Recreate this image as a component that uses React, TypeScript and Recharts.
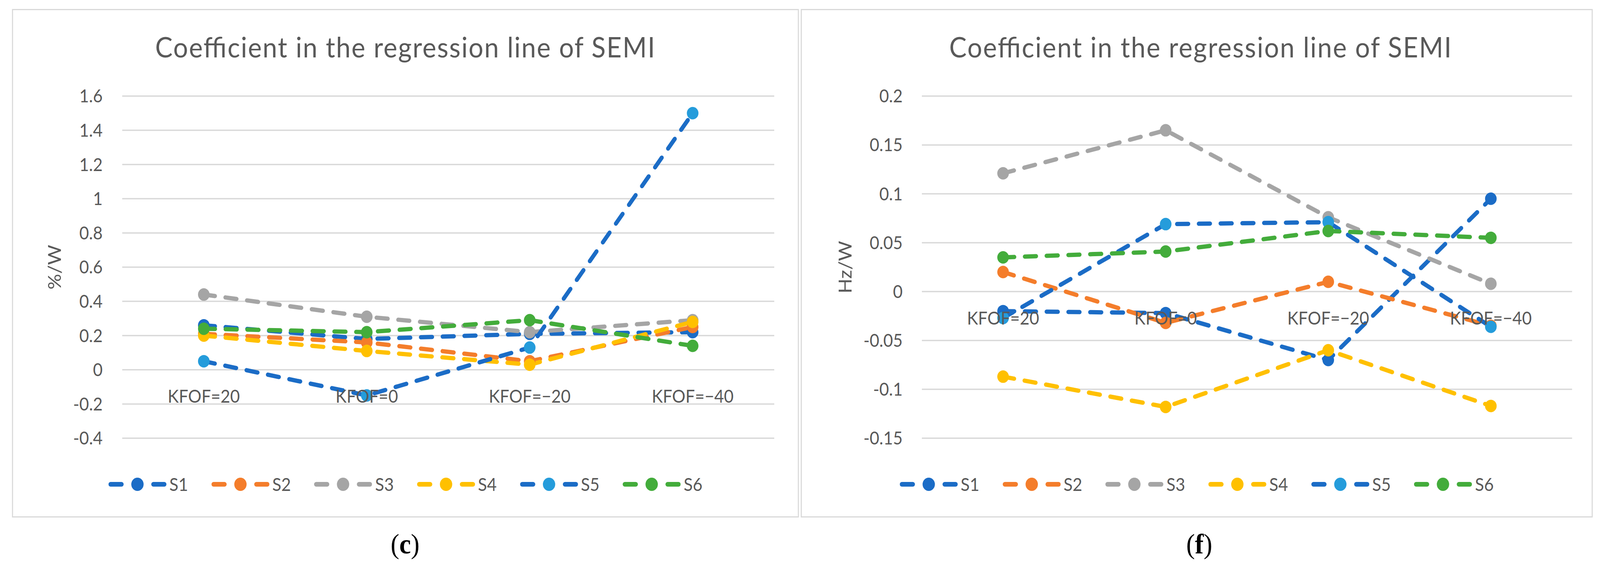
import React from 'react';
import { LineChart, Line, XAxis, YAxis, CartesianGrid, ReferenceDot, Legend } from 'recharts';

// ---------- data ----------
const categories = ['KFOF=20', 'KFOF=0', 'KFOF=\u221220', 'KFOF=\u221240'];
const seriesNames = ['S1', 'S2', 'S3', 'S4', 'S5', 'S6'];

// panel (c) values, %/W
const cS1 = [0.26, 0.18, 0.21, 0.22];
const cS2 = [0.21, 0.16, 0.05, 0.25];
const cS3 = [0.44, 0.31, 0.22, 0.29];
const cS4 = [0.2, 0.11, 0.03, 0.28];
const cS5 = [0.05, -0.15, 0.13, 1.5];
const cS6 = [0.24, 0.22, 0.29, 0.14];
const cTicks = [-0.4, -0.2, 0, 0.2, 0.4, 0.6, 0.8, 1, 1.2, 1.4, 1.6];

// panel (f) values, Hz/W
const fS1 = [-0.02, -0.022, -0.07, 0.095];
const fS2 = [0.02, -0.032, 0.01, -0.035];
const fS3 = [0.121, 0.165, 0.076, 0.008];
const fS4 = [-0.087, -0.118, -0.06, -0.117];
const fS5 = [-0.027, 0.069, 0.071, -0.036];
const fS6 = [0.035, 0.041, 0.062, 0.055];
const fTicks = [-0.15, -0.1, -0.05, 0, 0.05, 0.1, 0.15, 0.2];

const chartTitle = 'Coefficient in the regression line of SEMI';

// ---------- styles ----------
const lineColors = ['#1B6CC6', '#F47D2B', '#A5A5A5', '#FFC000', '#1B6CC6', '#43AC3B'];
const markerColors = ['#1B6CC6', '#F47D2B', '#A5A5A5', '#FFC000', '#259CDB', '#43AC3B'];
const FONT = "Lato, 'Open Sans', sans-serif";
const TXT = '#595959';
const GRID = '#D9D9D9';
const PAGE_W = 4412;
const PAGE_H = 1462;

function buildRows(vals: number[][]) {
  return categories.map((cat, i) => {
    const row: Record<string, any> = { cat };
    seriesNames.forEach((n, k) => {
      row[n] = vals[k][i];
    });
    return row;
  });
}

const cRows = buildRows([cS1, cS2, cS3, cS4, cS5, cS6]);
const fRows = buildRows([fS1, fS2, fS3, fS4, fS5, fS6]);

const fmt = (v: number) => String(Math.round(v * 1000) / 1000);

function LegendRow() {
  return (
    <div style={{ display: 'flex', justifyContent: 'center', alignItems: 'center', width: '100%', height: 40 }}>
      {seriesNames.map((n, i) => (
        <div key={n} style={{ display: 'flex', alignItems: 'center', marginLeft: i ? 64 : 0 }}>
          <svg width={160} height={40}>
            <line x1={6} y1={20} x2={36} y2={20} stroke={lineColors[i]} strokeWidth={12} strokeLinecap="round" />
            <line x1={124} y1={20} x2={154} y2={20} stroke={lineColors[i]} strokeWidth={12} strokeLinecap="round" />
            <circle cx={80} cy={20} r={17} fill={markerColors[i]} />
          </svg>
          <span style={{ marginLeft: 8, fontFamily: FONT, fontSize: 46, color: TXT, lineHeight: '40px' }}>{n}</span>
        </div>
      ))}
    </div>
  );
}

type PanelProps = {
  rows: Record<string, any>[];
  ticks: number[];
  width: number;
  height: number;
  yWidth: number;
  tickGap: number;
  rightMargin: number;
  pad: number;
  unit: string;
  unitX: number;
};

function Panel(p: PanelProps) {
  const domain: [number, number] = [p.ticks[0], p.ticks[p.ticks.length - 1]];
  return (
    <LineChart width={p.width} height={p.height} data={p.rows} margin={{ top: 223, right: p.rightMargin, bottom: 203, left: 0 }}>
      <CartesianGrid vertical={false} stroke={GRID} strokeWidth={3.5} />
      <XAxis dataKey="cat" type="category" tick={false} axisLine={false} tickLine={false} height={0} padding={{ left: p.pad, right: p.pad }} />
      <YAxis
        type="number"
        domain={domain}
        ticks={p.ticks}
        interval={0}
        width={p.yWidth}
        axisLine={false}
        tickLine={false}
        tickSize={0}
        tickMargin={p.tickGap}
        tickFormatter={fmt}
        tick={{ fill: TXT, fontSize: 46, fontFamily: FONT }}
        label={(lp: any) => {
          const vb = lp.viewBox || {};
          const cx = (vb.x || 0) + p.unitX;
          const cy = (vb.y || 0) + (vb.height || 0) / 2;
          return (
            <text x={cx} y={cy} transform={`rotate(-90 ${cx} ${cy})`} textAnchor="middle" dominantBaseline="central" fill={TXT} fontSize={50} fontFamily={FONT}>
              {p.unit}
            </text>
          );
        }}
      />
      {categories.map((c) => (
        <ReferenceDot
          key={c}
          x={c}
          y={0}
          r={0}
          fill="none"
          stroke="none"
          label={{ value: c, position: 'bottom', offset: 52, fill: TXT, fontSize: 46, fontFamily: FONT }}
        />
      ))}
      {seriesNames.map((n, i) => (
        <Line
          key={n}
          type="linear"
          dataKey={n}
          stroke={lineColors[i]}
          strokeWidth={11}
          strokeDasharray="31 29"
          strokeLinecap="round"
          dot={{ r: 16, fill: markerColors[i], stroke: 'none', strokeWidth: 0 }}
          activeDot={false}
          isAnimationActive={false}
        />
      ))}
      <Legend verticalAlign="middle" content={() => <LegendRow />} wrapperStyle={{ top: 1197, left: 0, width: '100%', height: 40 }} />
    </LineChart>
  );
}

export default function App() {
  const vw = typeof window !== 'undefined' ? window.innerWidth : PAGE_W;
  const vh = typeof window !== 'undefined' ? window.innerHeight : PAGE_H;
  const sx = vw > 0 ? Math.min(1, vw / PAGE_W) : 1;
  const sy = vh > 0 ? Math.min(1, vh / PAGE_H) : 1;
  return (
    <div style={{ position: 'fixed', left: 0, top: 0, width: '100vw', height: '100vh', overflow: 'hidden', background: '#fff' }}>
      <div
        style={{
          position: 'absolute',
          left: 0,
          top: 0,
          width: PAGE_W,
          height: PAGE_H,
          background: '#fff',
          transform: `scale(${sx}, ${sy})`,
          transformOrigin: '0 0',
        }}
      >
        <div style={{ position: 'absolute', left: 33, top: 23 }}>
          <Panel rows={cRows} ticks={cTicks} width={2170} height={1302} yWidth={304} tickGap={54} rightMargin={68} pad={225} unit="%/W" unitX={115} />
        </div>
        <div style={{ position: 'absolute', left: 2208, top: 23 }}>
          <Panel rows={fRows} ticks={fTicks} width={2184} height={1302} yWidth={334} tickGap={53} rightMargin={57} pad={224} unit="Hz/W" unitX={120} />
        </div>
        <div style={{ position: 'absolute', left: 33, top: 23, width: 2170, height: 1302, border: `3px solid ${GRID}`, boxSizing: 'border-box', pointerEvents: 'none' }} />
        <div style={{ position: 'absolute', left: 2208, top: 23, width: 2184, height: 1302, border: `3px solid ${GRID}`, boxSizing: 'border-box', pointerEvents: 'none' }} />
        <svg width={PAGE_W} height={PAGE_H} style={{ position: 'absolute', left: 0, top: 0, pointerEvents: 'none' }}>
          <text x={1117} y={147} textAnchor="middle" fontFamily={FONT} fontSize={72} fill={TXT} textLength={1378} lengthAdjust="spacing">
            {chartTitle}
          </text>
          <text x={3310} y={147} textAnchor="middle" fontFamily={FONT} fontSize={72} fill={TXT} textLength={1385} lengthAdjust="spacing">
            {chartTitle}
          </text>
          <text x={1117} y={1417} textAnchor="middle" fontFamily="'Liberation Serif', serif" fontSize={72} fill="#000">
            (<tspan fontWeight="bold">c</tspan>)
          </text>
          <text x={3307} y={1417} textAnchor="middle" fontFamily="'Liberation Serif', serif" fontSize={72} fill="#000">
            (<tspan fontWeight="bold">f</tspan>)
          </text>
        </svg>
      </div>
    </div>
  );
}
